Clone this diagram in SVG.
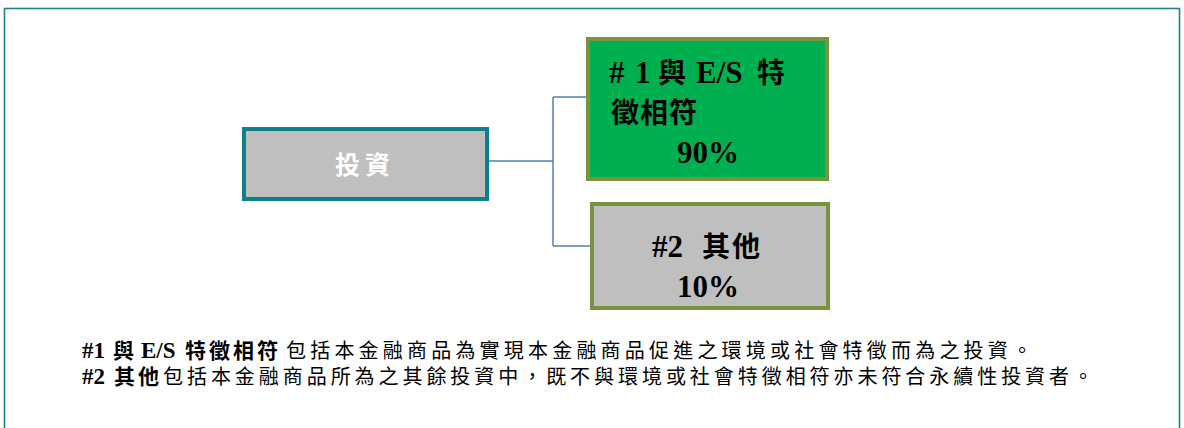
<svg xmlns="http://www.w3.org/2000/svg" width="1184" height="428" viewBox="0 0 1184 428">
<style>
.t{font-family:"Liberation Serif","Noto Sans CJK TC",serif;font-weight:bold;fill:#000}
.n{font-family:"Liberation Serif","Noto Sans CJK TC",serif;fill:#000;font-size:20px}
.c{fill:none;stroke:#4f81bd;stroke-width:1.5}
.nd{font-size:28px}
.nl{font-size:31px}
.b{font-size:21px}
.bl{font-size:23px}
</style>
<rect x="0" y="0" width="1184" height="428" fill="#fff"/>
<rect x="4.5" y="8.5" width="1175" height="430" fill="none" stroke="#1f7f8c" stroke-width="1.6"/>
<g id="connectors">
<path class="c" d="M489 161 H553 M553 97 V246 M553 97 H586 M553 246 H590"/>
</g>
<g id="invest">
<rect x="244" y="129" width="243" height="70" fill="#bfbfbf" stroke="#0e7f8f" stroke-width="4"/>
<text class="t" x="335" y="174" font-size="25" letter-spacing="5" style="fill:#fff">投資</text>
</g>
<g id="n1">
<rect x="588" y="39" width="239" height="140" fill="#00b050" stroke="#77933c" stroke-width="4"/>
<text class="t nd" y="83"><tspan class="nl" x="609">#</tspan><tspan class="nl" x="635">1</tspan><tspan x="658">與</tspan><tspan class="nl" x="696">E/S</tspan><tspan x="757">特</tspan></text>
<text class="t nd" x="611" y="123" letter-spacing="1">徵相符</text>
<text class="t nl" x="677" y="163">90%</text>
</g>
<g id="n2">
<rect x="592" y="204" width="236" height="104" fill="#bfbfbf" stroke="#77933c" stroke-width="4"/>
<text class="t nd" y="257"><tspan class="nl" x="652">#2</tspan><tspan x="702" letter-spacing="2">其他</tspan></text>
<text class="t nl" x="677" y="297">10%</text>
</g>
<g id="notes">
<text class="t b" y="358"><tspan class="bl" x="82">#1</tspan><tspan x="113">與</tspan><tspan class="bl" x="141">E/S</tspan><tspan x="185" letter-spacing="3">特徵相符</tspan></text>
<text class="n" x="286" y="358" textLength="746" lengthAdjust="spacing">包括本金融商品為實現本金融商品促進之環境或社會特徵而為之投資。</text>
<text class="t b" y="384"><tspan class="bl" x="82">#2</tspan><tspan x="114" letter-spacing="3">其他</tspan></text>
<text class="n" x="163" y="384" textLength="930" lengthAdjust="spacing">包括本金融商品所為之其餘投資中，既不與環境或社會特徵相符亦未符合永續性投資者。</text>
</g>
</svg>
